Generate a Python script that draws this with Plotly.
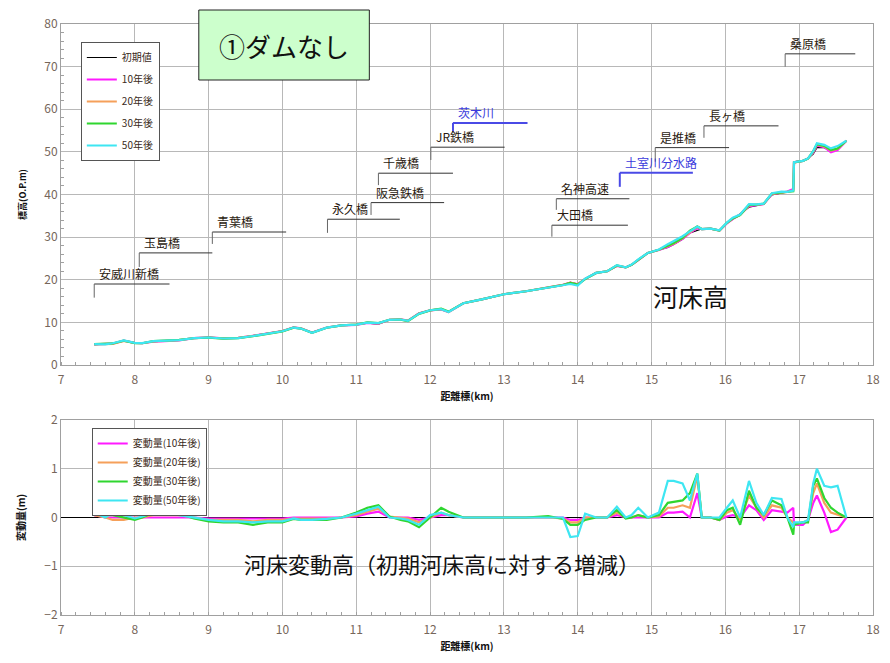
import plotly.graph_objects as go

# ---- river-bed profile data (distance in km, elevation in O.P.m) ----
distance_km = [7.45, 7.6, 7.7, 7.85, 8.0, 8.1, 8.25, 8.4, 8.6, 8.8,
               9.0, 9.2, 9.4, 9.6, 9.8, 10.0, 10.15, 10.25, 10.4, 10.6,
               10.8, 11.0, 11.15, 11.3, 11.45, 11.6, 11.7, 11.85, 12.0, 12.15,
               12.25, 12.45, 12.7, 13.0, 13.3, 13.6, 13.8, 13.9, 14.0, 14.1,
               14.25, 14.4, 14.53, 14.65, 14.73, 14.82, 14.95, 15.1, 15.22, 15.3,
               15.42, 15.52, 15.62, 15.68, 15.8, 15.92, 16.02, 16.1, 16.2, 16.32,
               16.42, 16.52, 16.63, 16.76, 16.84, 16.92, 16.93, 17.05, 17.12, 17.19,
               17.24, 17.34, 17.43, 17.52, 17.64]

bed_initial = [4.8, 4.85, 5.0, 5.7, 5.2, 5.1, 5.5, 5.6, 5.8, 6.3,
               6.5, 6.3, 6.4, 6.9, 7.5, 8.0, 8.8, 8.6, 7.6, 8.8,
               9.3, 9.4, 9.8, 9.6, 10.6, 10.7, 10.4, 12.2, 12.8, 13.0,
               12.4, 14.5, 15.4, 16.6, 17.3, 18.1, 18.8, 19.4, 19.0, 20.2,
               21.6, 22.0, 23.2, 22.9, 23.5, 24.6, 26.3, 27.0, 27.6, 28.3,
               29.5, 31.0, 31.6, 31.9, 32.0, 31.6, 33.2, 34.2, 35.3, 37.0,
               37.4, 37.8, 39.9, 40.3, 40.6, 41.1, 47.7, 48.0, 48.5, 49.5,
               51.0, 51.0, 50.2, 50.7, 52.6]

# bed change relative to the initial bed (m)
change_10y = [0.05, 0.0, 0.0, 0.0, 0.0, 0.0, 0.0, 0.0, 0.0, 0.0,
              -0.02, -0.02, -0.02, -0.03, -0.02, -0.02, 0.0, 0.0, 0.0, 0.0,
              0.0, 0.02, 0.08, 0.12, 0.0, 0.0, 0.0, -0.05, 0.0, 0.05,
              0.05, 0.0, 0.0, 0.0, 0.0, 0.0, 0.0, -0.05, -0.05, 0.0,
              0.0, 0.0, 0.05, 0.0, 0.0, 0.0, 0.0, 0.0, 0.1, 0.1,
              0.12, 0.0, 0.5, 0.0, 0.0, -0.05, 0.02, 0.05, 0.0, 0.25,
              0.15, -0.05, 0.15, 0.12, 0.1, 0.2, -0.15, -0.15, -0.05, 0.3,
              0.45, 0.1, -0.3, -0.25, 0.0]

change_20y = [0.05, 0.0, -0.05, -0.05, 0.0, 0.0, 0.05, 0.05, 0.05, 0.0,
              -0.05, -0.05, -0.05, -0.08, -0.05, -0.05, -0.02, -0.02, -0.02, -0.02,
              0.0, 0.05, 0.12, 0.18, 0.02, 0.0, -0.02, -0.1, 0.0, 0.1,
              0.05, 0.0, 0.0, 0.0, 0.0, 0.0, -0.02, -0.1, -0.1, 0.0,
              0.0, 0.0, 0.1, 0.0, 0.0, 0.05, 0.0, 0.02, 0.2, 0.2,
              0.25, 0.2, 0.85, 0.0, 0.0, -0.05, 0.1, 0.15, -0.05, 0.45,
              0.2, 0.0, 0.25, 0.2, 0.0, -0.1, -0.15, -0.1, -0.05, 0.5,
              0.7, 0.3, 0.1, 0.05, 0.0]

change_30y = [0.1, 0.05, 0.05, 0.0, -0.05, 0.0, 0.1, 0.1, 0.08, -0.02,
              -0.08, -0.1, -0.1, -0.15, -0.1, -0.1, -0.03, -0.05, -0.05, -0.05,
              0.0, 0.1, 0.2, 0.25, 0.02, -0.05, -0.08, -0.2, 0.0, 0.2,
              0.12, 0.0, 0.0, 0.0, 0.0, 0.03, -0.03, -0.15, -0.15, -0.05,
              0.0, 0.0, 0.15, -0.02, 0.0, 0.05, 0.0, 0.05, 0.3, 0.32,
              0.35, 0.5, 0.9, 0.0, 0.0, -0.05, 0.15, 0.2, -0.15, 0.55,
              0.2, 0.05, 0.35, 0.25, 0.0, -0.35, -0.15, -0.1, -0.1, 0.65,
              0.8, 0.4, 0.2, 0.1, 0.0]

change_50y = [0.1, 0.0, 0.1, 0.05, -0.02, 0.02, 0.1, 0.1, 0.05, 0.0,
              -0.05, -0.08, -0.08, -0.1, -0.08, -0.08, -0.02, -0.05, -0.05, -0.03,
              0.0, 0.08, 0.15, 0.22, 0.0, -0.02, -0.05, -0.15, 0.05, 0.1,
              0.05, 0.0, 0.0, 0.0, 0.0, 0.0, 0.0, -0.4, -0.38, 0.08,
              0.0, 0.0, 0.22, 0.0, 0.05, 0.2, 0.0, 0.1, 0.75, 0.75,
              0.7, 0.35, 0.9, 0.0, 0.0, 0.0, 0.2, 0.35, 0.0, 0.75,
              0.3, 0.05, 0.4, 0.38, 0.0, -0.2, -0.1, -0.1, -0.05, 0.7,
              1.0, 0.65, 0.62, 0.65, 0.0]

x_ticks = [7, 8, 9, 10, 11, 12, 13, 14, 15, 16, 17, 18]

# ---- structures along the river: name, start km, end km, label level, tick bottom ----
structure_names = ["安威川新橋", "玉島橋", "青葉橋", "永久橋", "阪急鉄橋", "千歳橋", "JR鉄橋",
                   "茨木川", "名神高速", "大田橋", "土室川分水路", "是推橋", "長ヶ橋", "桑原橋"]
structure_x0 = [7.45, 8.06, 9.05, 10.61, 11.20, 11.30, 12.01, 12.31, 13.71, 13.65, 14.57, 15.05, 15.71, 16.81]
structure_x1 = [8.47, 9.05, 10.05, 11.59, 12.19, 12.31, 13.01, 13.32, 14.70, 14.68, 15.56, 16.05, 16.72, 17.76]
structure_level = [19.0, 26.3, 31.2, 34.2, 38.1, 45.0, 51.1, 56.8, 39.0, 32.8, 45.1, 51.0, 56.1, 73.0]
structure_tick_low = [15.8, 23.0, 28.4, 31.0, 35.2, 42.2, 48.1, 54.7, 36.4, 30.1, 41.8, 47.7, 53.3, 70.0]
tributaries = {"茨木川", "土室川分水路"}

FONT = "Noto Sans CJK JP"
COL_INIT = "#000000"
COL_10 = "#ff1aff"
COL_20 = "#f5a05a"
COL_30 = "#2fd62f"
COL_50 = "#3ee6f2"
GRID = "#b8b8b8"

# plot-area geometry (pixels) used to express paper coordinates
L, R, T, B = 61, 880, 24, 615
W, H = 890, 663


def px(xp):
    return (xp - L) / (R - L)


def py(yp):
    return (B - yp) / (B - T)


fig = go.Figure()

# upper panel: bed elevation
bed_series = [
    ("初期値", [0.0] * len(distance_km), COL_INIT, 1.2),
    ("10年後", change_10y, COL_10, 2.2),
    ("20年後", change_20y, COL_20, 2.2),
    ("30年後", change_30y, COL_30, 2.2),
    ("50年後", change_50y, COL_50, 2.2),
]
for i, (name, delta, col, w) in enumerate(bed_series):
    fig.add_trace(go.Scatter(
        x=distance_km, y=[b + d for b, d in zip(bed_initial, delta)],
        mode="lines", name=name, line=dict(color=col, width=w),
        xaxis="x", yaxis="y", legend="legend", legendgroup=f"g{i}"))

# lower panel: bed change
for i, (name, delta, col) in enumerate([
        ("変動量(10年後)", change_10y, COL_10),
        ("変動量(20年後)", change_20y, COL_20),
        ("変動量(30年後)", change_30y, COL_30),
        ("変動量(50年後)", change_50y, COL_50)]):
    fig.add_trace(go.Scatter(
        x=distance_km, y=delta, mode="lines", name=name,
        line=dict(color=col, width=2.2),
        xaxis="x2", yaxis="y2", legend="legend2", legendgroup=f"h{i}"))

shapes = []
annotations = []

# structure markers and names
for name, x0, x1, lev, low in zip(structure_names, structure_x0, structure_x1,
                                  structure_level, structure_tick_low):
    is_trib = name in tributaries
    lc = "#4a4ae6" if is_trib else "#333333"
    lw = 2 if is_trib else 1
    shapes.append(dict(type="line", xref="x", yref="y", x0=x0, x1=x1, y0=lev, y1=lev,
                       line=dict(color=lc, width=lw)))
    shapes.append(dict(type="line", xref="x", yref="y", x0=x0, x1=x0, y0=low, y1=lev,
                       line=dict(color="#666666" if not is_trib else lc, width=lw)))
    annotations.append(dict(x=x0, y=lev, xref="x", yref="y", text=name,
                            showarrow=False, xanchor="left", yanchor="bottom",
                            xshift=3, yshift=0,
                            font=dict(family=FONT, size=12,
                                      color="#3b3bdc" if is_trib else "#2a1a10")))

# title box
shapes.append(dict(type="rect", xref="paper", yref="paper",
                   x0=px(200), x1=px(372), y0=py(80), y1=py(10),
                   fillcolor="#ccffcc", line=dict(color="#222222", width=1), layer="above"))
annotations.append(dict(x=px(286), y=py(45), xref="paper", yref="paper",
                        xanchor="center", yanchor="middle",
                        text="①ダムなし", showarrow=False,
                        font=dict(family=FONT, size=26, color="#111111")))

# white label panels
shapes.append(dict(type="rect", xref="paper", yref="paper",
                   x0=px(638), x1=px(755), y0=py(333), y1=py(277),
                   fillcolor="white", line=dict(width=0), layer="between"))
annotations.append(dict(x=px(696), y=py(296), xref="paper", yref="paper",
                        xanchor="center", yanchor="middle",
                        text="河床高", showarrow=False,
                        font=dict(family=FONT, size=25, color="#111111")))
shapes.append(dict(type="rect", xref="paper", yref="paper",
                   x0=px(218), x1=px(755), y0=py(588), y1=py(537),
                   fillcolor="white", line=dict(width=0), layer="between"))
annotations.append(dict(x=px(445), y=py(563), xref="paper", yref="paper",
                        xanchor="center", yanchor="middle",
                        text="河床変動高（初期河床高に対する増減）", showarrow=False,
                        font=dict(family=FONT, size=22, color="#111111")))

axis_common = dict(showgrid=True, gridcolor=GRID, gridwidth=1,
                   showline=True, linecolor="#a0a0a0", mirror=True,
                   tickfont=dict(family=FONT, size=12, color="#76665a"),
                   ticks="")
title_font = dict(family=FONT, size=10, color="#111111", weight="bold")
x_minor = dict(dtick=0.2, ticks="inside", ticklen=3, tickcolor="#a0a0a0", showgrid=False)

fig.update_layout(
    width=W, height=H,
    margin=dict(l=L, r=W - R, t=T, b=H - B),
    paper_bgcolor="white", plot_bgcolor="white",
    font=dict(family=FONT),
    xaxis=dict(domain=[0, 1], range=[7, 18], tickvals=x_ticks, anchor="y",
               title=dict(text="距離標(km)", font=title_font, standoff=6),
               ticklabelstandoff=4, minor=x_minor, zeroline=False, **axis_common),
    yaxis=dict(domain=[py(365), 1], range=[0, 80], dtick=10, anchor="x",
               title=dict(text="標高(O.P.m)", font=dict(title_font, size=9), standoff=16),
               minor=dict(dtick=2, ticks="inside", ticklen=3, tickcolor="#a0a0a0", showgrid=False),
               zeroline=False, **axis_common),
    xaxis2=dict(domain=[0, 1], range=[7, 18], tickvals=x_ticks, anchor="y2",
                title=dict(text="距離標(km)", font=title_font, standoff=6),
                ticklabelstandoff=4, minor=x_minor, zeroline=False, **axis_common),
    yaxis2=dict(domain=[0, py(420)], range=[-2, 2], dtick=1, anchor="x2",
                title=dict(text="変動量(m)", font=title_font, standoff=16),
                zeroline=True, zerolinecolor="#000000", zerolinewidth=1, **axis_common),
    legend=dict(x=px(81), y=py(42), xanchor="left", yanchor="top",
                bgcolor="white", bordercolor="#555555", borderwidth=1,
                font=dict(family=FONT, size=10, color="#3a2a1a"),
                itemwidth=30, tracegroupgap=3),
    legend2=dict(x=px(92), y=py(428), xanchor="left", yanchor="top",
                 bgcolor="white", bordercolor="#555555", borderwidth=1,
                 font=dict(family=FONT, size=10, color="#3a2a1a"),
                 itemwidth=30, tracegroupgap=0),
    shapes=shapes,
    annotations=annotations,
    showlegend=True,
)

fig.write_html("out.html")
